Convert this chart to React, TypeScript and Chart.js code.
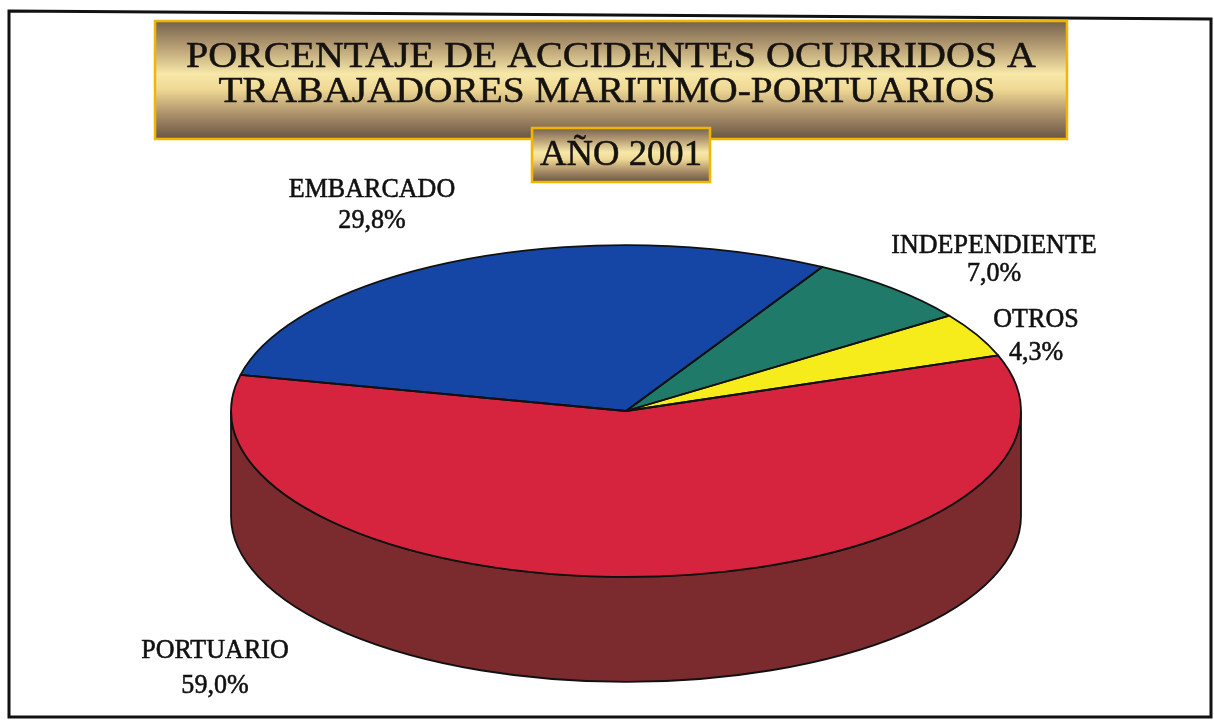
import React, { useEffect, useRef } from 'react';
import { Chart, registerables } from 'chart.js';

Chart.register(...registerables);

// ---- data ----
const categories = ['EMBARCADO', 'INDEPENDIENTE', 'OTROS', 'PORTUARIO'];
const percentages = [29.8, 7.0, 4.3, 59.0];
const titleLines = ['PORCENTAJE DE ACCIDENTES OCURRIDOS A', 'TRABAJADORES MARITIMO-PORTUARIOS'];
const subtitle = 'AÑO 2001';

// ---- styles ----
const sliceColors = ['#1546a6', '#1f7a6a', '#f6ec1c', '#d6243f'];
const sideColors = ['#0d2b68', '#12493f', '#9c9310', '#7b2a2e'];
const W = 1214;
const H = 721;
const TILT = 0.42;
const DEPTH = 105;
const FONT = '"Liberation Serif", "DejaVu Serif", serif';
// label anchor: [centerX, nameBaseline, valueBaseline]
const labelPos = [
  [372, 197, 228],
  [994, 253, 281],
  [1036, 327, 360],
  [215, 658, 693],
];

function fmt(v: number) {
  return v.toFixed(1).replace('.', ',') + '%';
}

function fitText(ctx: CanvasRenderingContext2D, text: string, cx: number, y: number, size: number, width: number, weight: number) {
  ctx.font = `normal ${size}px ${FONT}`;
  const w = ctx.measureText(text).width;
  ctx.save();
  ctx.translate(cx, y);
  ctx.scale(width / w, 1);
  ctx.textAlign = 'center';
  ctx.textBaseline = 'alphabetic';
  ctx.fillText(text, 0, 0);
  ctx.lineWidth = weight;
  ctx.strokeText(text, 0, 0);
  ctx.restore();
}

function goldBox(ctx: CanvasRenderingContext2D, x: number, y: number, w: number, h: number) {
  const g = ctx.createLinearGradient(0, y, 0, y + h);
  g.addColorStop(0, '#74614c');
  g.addColorStop(0.22, '#b79e74');
  g.addColorStop(0.45, '#f7e8a8');
  g.addColorStop(0.58, '#efd894');
  g.addColorStop(0.8, '#a88d68');
  g.addColorStop(1, '#685543');
  ctx.fillStyle = g;
  ctx.fillRect(x, y, w, h);
  ctx.strokeStyle = '#f3b600';
  ctx.lineWidth = 2.5;
  ctx.strokeRect(x, y, w, h);
}

const pie3d = {
  id: 'pie3d',
  beforeDatasetsDraw(chart: any) {
    const ctx: CanvasRenderingContext2D = chart.ctx;
    const arcs = chart.getDatasetMeta(0).data as any[];
    ctx.save();
    if (!arcs.length) return;
    const cx = arcs[0].x;
    const cy = arcs[0].y;
    const r = arcs[0].outerRadius;
    const ry = r * TILT;
    ctx.save();
    ctx.lineWidth = 1.8;
    ctx.strokeStyle = '#111';
    arcs.forEach((arc, i) => {
      const a0 = arc.startAngle;
      const a1 = arc.endAngle;
      for (let n = -2; n <= 3; n++) {
        const lo = Math.max(a0, 2 * Math.PI * n);
        const hi = Math.min(a1, 2 * Math.PI * n + Math.PI);
        if (hi - lo > 1e-6) {
          ctx.beginPath();
          ctx.ellipse(cx, cy, r, ry, 0, lo, hi);
          ctx.ellipse(cx, cy + DEPTH, r, ry, 0, hi, lo, true);
          ctx.closePath();
          ctx.fillStyle = sideColors[i];
          ctx.fill();
          ctx.stroke();
        }
      }
    });
    ctx.restore();
    ctx.translate(cx, cy);
    ctx.scale(1, TILT);
    ctx.translate(-cx, -cy);
  },
  afterDatasetsDraw(chart: any) {
    const ctx: CanvasRenderingContext2D = chart.ctx;
    ctx.restore();
    const arcs = chart.getDatasetMeta(0).data as any[];
    if (!arcs.length) return;
    const cx = arcs[0].x;
    const cy = arcs[0].y;
    const r = arcs[0].outerRadius;
    const ry = r * TILT;
    ctx.save();
    ctx.lineWidth = 1.8;
    ctx.strokeStyle = '#111';
    ctx.lineJoin = 'round';
    arcs.forEach((arc) => {
      ctx.beginPath();
      ctx.moveTo(cx, cy);
      ctx.ellipse(cx, cy, r, ry, 0, arc.startAngle, arc.endAngle);
      ctx.closePath();
      ctx.stroke();
    });
    ctx.restore();
  },
};

const decorations = {
  id: 'decorations',
  afterDraw(chart: any) {
    const ctx: CanvasRenderingContext2D = chart.ctx;
    ctx.save();
    // frame
    ctx.strokeStyle = '#111';
    ctx.lineWidth = 3;
    ctx.beginPath();
    ctx.moveTo(9, 11);
    ctx.lineTo(1211, 19);
    ctx.lineTo(1211, 717);
    ctx.lineTo(9, 717);
    ctx.closePath();
    ctx.stroke();

    // title boxes
    goldBox(ctx, 155, 21, 912, 118);
    goldBox(ctx, 532, 128, 178, 54);
    ctx.fillStyle = '#151310';
    ctx.strokeStyle = '#151310';
    fitText(ctx, titleLines[0], 611, 67, 36, 850, 0.5);
    fitText(ctx, titleLines[1], 607, 102, 36, 777, 0.5);
    fitText(ctx, subtitle, 621, 165, 36, 162, 0.5);

    // labels
    ctx.fillStyle = '#111';
    ctx.strokeStyle = '#111';
    ctx.lineWidth = 0.6;
    ctx.font = `normal 28px ${FONT}`;
    ctx.textAlign = 'center';
    categories.forEach((name, i) => {
      const [x, y1, y2] = labelPos[i];
      ctx.save();
      ctx.translate(x, 0);
      ctx.scale(0.93, 1);
      ctx.fillText(name, 0, y1);
      ctx.strokeText(name, 0, y1);
      ctx.fillText(fmt(percentages[i]), 0, y2);
      ctx.strokeText(fmt(percentages[i]), 0, y2);
      ctx.restore();
    });
    ctx.restore();
  },
};

export default function App() {
  const ref = useRef<HTMLCanvasElement | null>(null);
  useEffect(() => {
    if (!ref.current) return;
    const chart = new Chart(ref.current, {
      type: 'pie',
      data: {
        labels: categories,
        datasets: [
          {
            data: percentages,
            backgroundColor: sliceColors,
            borderWidth: 0,
            clip: false,
          } as any,
        ],
      },
      options: {
        responsive: false,
        animation: false,
        events: [],
        rotation: 282.6,
        radius: 395,
        layout: { padding: { left: 38, top: 101, right: 0, bottom: 0 } },
        plugins: {
          legend: { display: false },
          title: { display: false },
          tooltip: { enabled: false },
        },
      } as any,
      plugins: [pie3d, decorations],
    });
    return () => chart.destroy();
  }, []);
  return (
    <canvas
      ref={ref}
      width={W}
      height={H}
      style={{ position: 'fixed', left: 0, top: 0, width: W, height: H, background: '#fff' }}
    />
  );
}
